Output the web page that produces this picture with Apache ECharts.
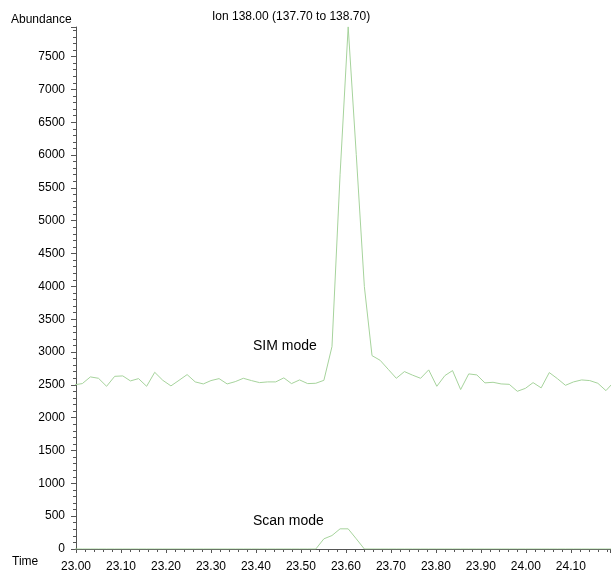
<!DOCTYPE html>
<html>
<head>
<meta charset="utf-8">
<style>
  html, body { margin: 0; padding: 0; background: #fff; }
  #chart { width: 611px; height: 573px; }
</style>
<script src="https://cdn.jsdelivr.net/npm/echarts@6/dist/echarts.min.js"></script>
</head>
<body>
<div id="chart"></div>
<script>
// =====================
// 数据
// =====================

const titleText = "Ion 138.00 (137.70 to 138.70)";

// scan times (min)
const times = [
  22.996, 23.014, 23.032, 23.050, 23.068, 23.086, 23.104, 23.121, 23.139, 23.157,
  23.175, 23.193, 23.211, 23.229, 23.247, 23.265, 23.283, 23.300, 23.318, 23.336,
  23.354, 23.372, 23.390, 23.408, 23.426, 23.444, 23.462, 23.479, 23.497, 23.515,
  23.533, 23.551, 23.569, 23.587, 23.605, 23.623, 23.641, 23.658, 23.676, 23.694,
  23.712, 23.730, 23.748, 23.766, 23.784, 23.802, 23.820, 23.837, 23.855, 23.873,
  23.891, 23.909, 23.927, 23.945, 23.963, 23.981, 23.999, 24.016, 24.034, 24.052,
  24.070, 24.088, 24.106, 24.124, 24.142, 24.160, 24.178, 24.195,
];

// SIM mode abundance
const simValues = [
  2500, 2519, 2621, 2600, 2478, 2630, 2636, 2560, 2595, 2478,
  2691, 2569, 2484, 2569, 2656, 2545, 2514, 2565, 2595, 2514,
  2549, 2600, 2565, 2534, 2545, 2545, 2606, 2519, 2575, 2519,
  2524, 2569, 3082, 5700, 7953, 6005, 3995, 2945, 2874, 2737,
  2600, 2702, 2648, 2600, 2728, 2478, 2641, 2717, 2428, 2667,
  2651, 2530, 2539, 2514, 2508, 2402, 2447, 2534, 2454, 2687,
  2595, 2493, 2545, 2575, 2565, 2524, 2412, 2540,
];

// Scan mode abundance
const scanValues = [
  0, 0, 0, 0, 0, 0, 0, 0, 0, 0,
  0, 0, 0, 0, 0, 0, 0, 0, 0, 0,
  0, 0, 0, 0, 0, 0, 0, 0, 0, 0,
  0, 155, 205, 307, 307, 155, 0, 0, 0, 0,
  0, 0, 0, 0, 0, 0, 0, 0, 0, 0,
  0, 0, 0, 0, 0, 0, 0, 0, 0, 0,
  0, 0, 0, 0, 0, 0, 0, 0,
];

const xMin = 23.0;
const xMax = 24.187;
const xStep = 0.1;
const yMin = 0;
const yMax = 7950;
const yStep = 500;

// =====================
// 图表
// =====================

const chart = echarts.init(document.getElementById("chart"));

const lineColor = "#a6d39c";
const axisColor = "#555555";
const font = "'Liberation Sans', Arial, Helvetica, sans-serif";

function pairs(values) {
  return times.map((t, i) => [t, values[i]]);
}

chart.setOption({
  animation: false,

  grid: {
    left: 76,
    right: 1,
    top: 27,
    bottom: 23,
  },

  xAxis: {
    type: "value",
    min: xMin,
    max: xMax,
    interval: xStep,
    splitLine: { show: false },
    axisLine: { lineStyle: { color: axisColor, width: 1 } },
    axisTick: { length: 4, lineStyle: { color: axisColor } },
    minorTick: { show: true, splitNumber: 5, length: 3, lineStyle: { color: axisColor } },
    axisLabel: {
      margin: 12,
      color: "#000",
      fontSize: 12,
      fontFamily: font,
      showMaxLabel: false,
      formatter: (v) => v.toFixed(2),
    },
  },

  yAxis: {
    type: "value",
    min: yMin,
    max: yMax,
    interval: yStep,
    splitLine: { show: false },
    axisLine: { show: true, lineStyle: { color: axisColor, width: 1 } },
    axisTick: { show: true, length: 5, lineStyle: { color: axisColor } },
    minorTick: { show: true, splitNumber: 5, length: 3, lineStyle: { color: axisColor } },
    axisLabel: {
      margin: 11,
      color: "#000",
      fontSize: 12,
      fontFamily: font,
      showMaxLabel: false,
      formatter: (v) => String(v),
    },
  },

  graphic: [
    { type: "text", left: 212, top: 11, style: { text: titleText, fill: "#000", font: "12px " + font } },
    { type: "text", left: 11, top: 14, style: { text: "Abundance", fill: "#000", font: "12px " + font } },
    { type: "text", left: 12, top: 556, style: { text: "Time", fill: "#000", font: "12px " + font } },
    { type: "text", left: 253, top: 339, style: { text: "SIM mode", fill: "#000", font: "14px " + font } },
    { type: "text", left: 253, top: 514, style: { text: "Scan mode", fill: "#000", font: "14px " + font } },
  ],

  series: [
    {
      name: "SIM mode",
      type: "line",
      data: pairs(simValues),
      showSymbol: false,
      lineStyle: { color: lineColor, width: 1 },
    },
    {
      name: "Scan mode",
      type: "line",
      data: pairs(scanValues),
      showSymbol: false,
      lineStyle: { color: lineColor, width: 1 },
    },
  ],
});
</script>
</body>
</html>
